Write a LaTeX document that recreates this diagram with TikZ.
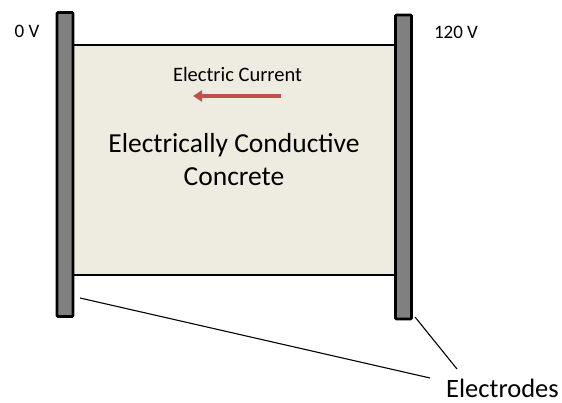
\documentclass[tikz,border=0pt]{standalone}
\usepackage{fontspec}
\setmainfont{Carlito}
\usetikzlibrary{arrows.meta}
\definecolor{concretefill}{HTML}{EEECE1}
\definecolor{electrodegray}{HTML}{808080}
\definecolor{currentred}{HTML}{C0504D}
\tikzset{
  electrode/.style={draw=black, fill=electrodegray, line width=2.8pt, rounded corners=1.2pt, minimum width=16pt, inner sep=0pt},
  concrete/.style={draw=black, fill=concretefill, line width=2.6pt, minimum width=322pt, minimum height=230pt, inner sep=0pt},
  lbl/.style={font=\fontsize{19}{22}\selectfont, anchor=base, inner sep=0pt},
  leader/.style={draw=black, line width=1.1pt}
}
\begin{document}
\begin{tikzpicture}[x=1pt,y=-1pt]
\useasboundingbox (0,0) rectangle (562,403);
\node[concrete] (cc) at (234,160) {};
\node[electrode, minimum height=304pt] (le) at (65,164.5) {};
\node[electrode, minimum height=304pt] (re) at (403.5,167) {};
\node[lbl] (v0) at (27,38) {0 V};
\node[lbl] (v120) at (456,39) {120 V};
\node[lbl, font=\fontsize{20.5}{24}\selectfont] (ec) at (237.5,82) {Electric Current};
\coordinate (ca) at (281,96);
\coordinate (cb) at (193,96);
\draw[currentred, line width=3.2pt, -{Triangle[length=9pt,width=11pt]}] (ca) -- (cb);
\node[font=\fontsize{27.5}{33}\selectfont, align=center, anchor=base, inner sep=0pt] (ecc) at (234,186) {Electrically Conductive\\Concrete};
\node[lbl, font=\fontsize{26.5}{30}\selectfont] (el) at (502.5,397) {Electrodes};
\coordinate (l1a) at (80,298);
\coordinate (l1b) at (430,378);
\coordinate (l2a) at (415,317);
\coordinate (l2b) at (457,369);
\draw[leader] (l1a) -- (l1b);
\draw[leader] (l2a) -- (l2b);
\end{tikzpicture}
\end{document}
